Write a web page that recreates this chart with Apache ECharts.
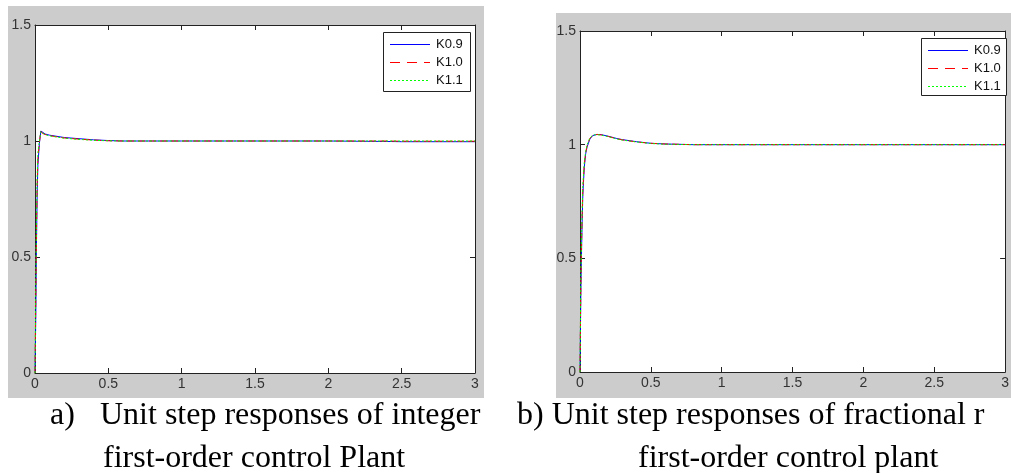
<!DOCTYPE html>
<html>
<head>
<meta charset="utf-8">
<script src="https://cdn.jsdelivr.net/npm/echarts@6/dist/echarts.min.js"></script>
<style>
  html, body { margin: 0; padding: 0; background: #fff; overflow: hidden; }
  #main { width: 1012px; height: 473px; }
</style>
</head>
<body>
<div id="main"></div>
<script>
// a) integer first-order plant
var timeA = [0, 0.005, 0.01, 0.015, 0.02, 0.03, 0.04, 0.05, 0.07, 0.1, 0.15, 0.2, 0.3, 0.4, 0.5, 0.6, 0.8, 1.0, 1.5, 2.0, 2.4, 2.5, 3.0];
var k09A = [0, 0.22, 0.55, 0.78, 0.9, 0.99, 1.043, 1.036, 1.03, 1.025, 1.02, 1.015, 1.01, 1.005, 1.002, 1.0, 1.0, 1.0, 1.0, 1.0, 0.998, 0.997, 0.997];
var k10A = [0, 0.3, 0.6, 0.82, 0.93, 0.995, 1.042, 1.033, 1.028, 1.023, 1.018, 1.013, 1.008, 1.004, 1.001, 1.0, 1.0, 1.0, 1.0, 1.0, 1.0, 0.999, 0.999];
var k11A = [0, 0.35, 0.65, 0.85, 0.95, 1.0, 1.04, 1.032, 1.027, 1.022, 1.017, 1.012, 1.007, 1.003, 1.001, 1.0, 1.0, 1.0, 1.0, 1.0, 1.0, 1.0, 1.0];

// b) fractional first-order plant
var timeB = [0, 0.003, 0.006, 0.01, 0.015, 0.02, 0.03, 0.04, 0.05, 0.07, 0.09, 0.12, 0.15, 0.2, 0.26, 0.3, 0.4, 0.5, 0.6, 0.8, 1.0, 2.0, 3.0];
var k09B = [0, 0.18, 0.35, 0.5, 0.66, 0.78, 0.9, 0.96, 0.99, 1.025, 1.04, 1.045, 1.044, 1.037, 1.027, 1.022, 1.013, 1.006, 1.003, 1.0, 1.0, 1.0, 1.0];
var k10B = [0, 0.2, 0.38, 0.53, 0.69, 0.8, 0.91, 0.965, 0.995, 1.028, 1.041, 1.045, 1.043, 1.036, 1.026, 1.021, 1.012, 1.006, 1.003, 1.0, 1.0, 1.0, 1.0];
var k11B = [0, 0.22, 0.41, 0.56, 0.71, 0.82, 0.92, 0.97, 1.0, 1.03, 1.042, 1.044, 1.042, 1.035, 1.025, 1.02, 1.012, 1.005, 1.002, 1.0, 1.0, 1.0, 1.0];

var names = ["K0.9", "K1.0", "K1.1"];
var xTicks = [0, 0.5, 1, 1.5, 2, 2.5, 3];
var yTicks = [0, 0.5, 1, 1.5];

var captionA = ["a)", "Unit step responses of integer", "first-order control Plant"];
var captionB = ["b) Unit step responses of fractional r", "first-order control plant"];

function pairs(t, y) {
  return t.map(function (v, i) { return [v, y[i]]; });
}

var dom = document.getElementById("main");
var myChart = echarts.init(dom);

var axisFont = { fontFamily: "Liberation Sans", fontSize: 14, color: "#333" };
var lineCol = { color: "#222", width: 1 };

function xAx(grid, pos) {
  return {
    type: "value", gridIndex: grid, position: pos,
    min: xTicks[0], max: xTicks[xTicks.length - 1], interval: 0.5,
    axisLine: { show: true, onZero: false, lineStyle: lineCol },
    axisTick: { show: true, inside: true, length: 5, lineStyle: lineCol },
    axisLabel: pos == "bottom" ? Object.assign({ margin: 4 }, axisFont) : { show: false },
    splitLine: { show: false }
  };
}
function yAx(grid, pos) {
  return {
    type: "value", gridIndex: grid, position: pos,
    min: yTicks[0], max: yTicks[yTicks.length - 1], interval: 0.5,
    axisLine: { show: true, onZero: false, lineStyle: lineCol },
    axisTick: { show: true, inside: true, length: 5, lineStyle: lineCol },
    axisLabel: pos == "left" ? Object.assign({ margin: 4 }, axisFont) : { show: false },
    splitLine: { show: false }
  };
}

var styles = [
  { color: "#0000ff", dash: null, legendDash: null },
  { color: "#ff0000", dash: [7, 4], legendDash: [10, 7] },
  { color: "#00ff00", dash: [2, 2], legendDash: [2, 2] }
];

function mkSeries(grid, t, ys) {
  return ys.map(function (y, i) {
    return {
      name: names[i], type: "line",
      xAxisIndex: grid * 2, yAxisIndex: grid * 2,
      data: pairs(t, y),
      symbol: "none", showSymbol: false,
      lineStyle: { color: styles[i].color, type: styles[i].dash || "solid", width: 1 },
      itemStyle: { color: styles[i].color },
      z: 2 + i
    };
  });
}

// MATLAB style legend box, drawn as graphic elements
function mkLegend(x, y, w, h, gap) {
  var els = [{
    type: "rect", z: 100,
    shape: { x: x + 0.5, y: y + 0.5, width: w, height: h },
    style: { fill: "#fff", stroke: "#222", lineWidth: 1 }
  }];
  names.forEach(function (n, i) {
    var cy = y + 12.5 + i * gap;
    els.push({
      type: "line", z: 101,
      shape: { x1: x + 7, y1: cy, x2: x + 47, y2: cy },
      style: { stroke: styles[i].color, lineWidth: 1, lineDash: styles[i].legendDash }
    });
    els.push({
      type: "text", z: 101, x: x + 53, y: cy,
      style: { text: n, fontFamily: "Liberation Sans", fontSize: 13, fill: "#111", verticalAlign: "middle" }
    });
  });
  return els;
}

var serif = { fontFamily: "Liberation Serif", fontSize: 32, fill: "#000", verticalAlign: "middle" };

var option = {
  animation: false,
  backgroundColor: "#fff",
  graphic: [
    { type: "rect", z: -10, shape: { x: 8, y: 6, width: 476, height: 392 }, style: { fill: "#cccccc" } },
    { type: "rect", z: -10, shape: { x: 556, y: 13, width: 460, height: 385 }, style: { fill: "#cccccc" } },
    { type: "text", x: 50, y: 416, style: Object.assign({ text: captionA[0] }, serif) },
    { type: "text", x: 100, y: 416, style: Object.assign({ text: captionA[1] }, serif) },
    { type: "text", x: 103, y: 459, style: Object.assign({ text: captionA[2] }, serif) },
    { type: "text", x: 517, y: 416, style: Object.assign({ text: captionB[0] }, serif) },
    { type: "text", x: 638, y: 459, style: Object.assign({ text: captionB[1] }, serif) }
  ].concat(mkLegend(383, 32, 87, 59, 18), mkLegend(921, 38, 85, 57, 18)),
  grid: [
    { left: 35, top: 25, width: 440, height: 348, show: true, backgroundColor: "#fff", borderWidth: 0 },
    { left: 580, top: 31, width: 432, height: 341, show: true, backgroundColor: "#fff", borderWidth: 0 }
  ],
  xAxis: [xAx(0, "bottom"), xAx(0, "top"), xAx(1, "bottom"), xAx(1, "top")],
  yAxis: [yAx(0, "left"), yAx(0, "right"), yAx(1, "left"), yAx(1, "right")],
  series: mkSeries(0, timeA, [k09A, k10A, k11A]).concat(mkSeries(1, timeB, [k09B, k10B, k11B]))
};

myChart.setOption(option);
</script>
</body>
</html>
